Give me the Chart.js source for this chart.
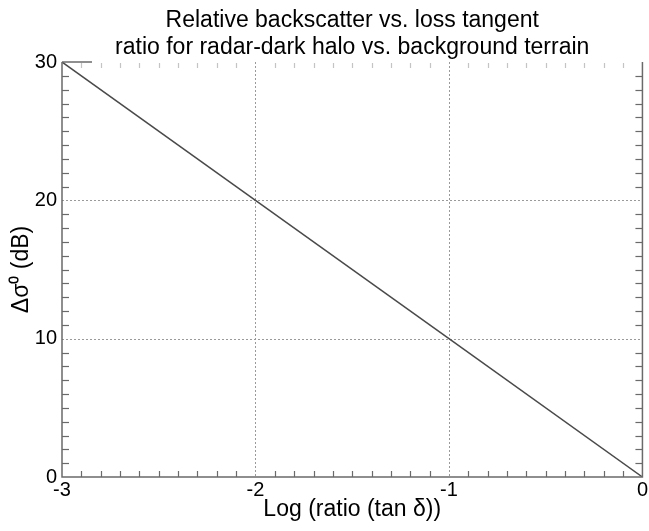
<!DOCTYPE html>
<html>
<head>
<meta charset="utf-8">
<script src="https://cdn.jsdelivr.net/npm/chart.js@4/dist/chart.umd.min.js"></script>
<style>
  html, body { margin: 0; padding: 0; background: #fff; }
  #wrap { width: 649px; height: 531px; }
</style>
</head>
<body>
<div id="wrap"><canvas id="chart" width="649" height="531"></canvas></div>
<script>
// Data
const logRatio = [-3, -2, -1, 0];
const deltaSigma = [30, 20, 10, 0];
const xMajorTicks = [-3, -2, -1, 0];
const yMajorTicks = [0, 10, 20, 30];
const titleLines = ['Relative backscatter vs. loss tangent',
                    'ratio for radar-dark halo vs. background terrain'];

const FONT = 'Liberation Sans, Arial, Helvetica, sans-serif';
const AXIS_COLOR = '#6a6a6a';

// Frame, dotted grid, minor ticks and a title centred over the plot area
const framePlugin = {
    id: 'frame',
    beforeDatasetsDraw(chart) {
        const {ctx, chartArea: a, scales: {x, y}} = chart;
        ctx.save();
        ctx.strokeStyle = '#9a9a9a';
        ctx.lineWidth = 1;
        ctx.setLineDash([2, 2]);
        xMajorTicks.slice(1, -1).forEach(v => {
            const px = Math.round(x.getPixelForValue(v)) + 0.5;
            ctx.beginPath(); ctx.moveTo(px, a.top); ctx.lineTo(px, a.bottom); ctx.stroke();
        });
        yMajorTicks.slice(1, -1).forEach(v => {
            const py = Math.round(y.getPixelForValue(v)) + 0.5;
            ctx.beginPath(); ctx.moveTo(a.left, py); ctx.lineTo(a.right, py); ctx.stroke();
        });
        ctx.restore();
    },
    afterDatasetsDraw(chart) {
        const {ctx, chartArea: a, scales: {x, y}} = chart;
        ctx.save();
        ctx.setLineDash([]);
        ctx.strokeStyle = AXIS_COLOR;
        ctx.lineWidth = 1.5;

        // left, bottom, right edges
        ctx.beginPath();
        ctx.moveTo(a.left, a.top);
        ctx.lineTo(a.left, a.bottom);
        ctx.lineTo(a.right, a.bottom);
        ctx.lineTo(a.right, a.top);
        ctx.stroke();

        // minor ticks along x (every 0.1)
        ctx.lineWidth = 1.2;
        for (let i = 1; i < 30; i++) {
            if (i % 10 === 0) continue;
            const px = Math.round(x.getPixelForValue(-3 + i / 10)) + 0.5;
            ctx.strokeStyle = AXIS_COLOR;
            ctx.beginPath(); ctx.moveTo(px, a.bottom); ctx.lineTo(px, a.bottom - 6); ctx.stroke();
            ctx.strokeStyle = '#c4c4c4';
            ctx.beginPath(); ctx.moveTo(px, a.top + 1); ctx.lineTo(px, a.top + 6); ctx.stroke();
        }

        // minor ticks along y (every 1)
        ctx.strokeStyle = AXIS_COLOR;
        for (let v = 1; v < 30; v++) {
            if (v % 10 === 0) continue;
            const py = Math.round(y.getPixelForValue(v)) + 0.5;
            ctx.beginPath(); ctx.moveTo(a.left, py); ctx.lineTo(a.left + 7, py); ctx.stroke();
            ctx.beginPath(); ctx.moveTo(a.right, py); ctx.lineTo(a.right - 7, py); ctx.stroke();
        }

        // short stub at top-left corner
        ctx.lineWidth = 1.5;
        ctx.beginPath(); ctx.moveTo(a.left, a.top); ctx.lineTo(a.left + 30, a.top); ctx.stroke();

        // title
        ctx.fillStyle = '#000';
        ctx.font = '23px ' + FONT;
        ctx.textAlign = 'center';
        ctx.textBaseline = 'alphabetic';
        const cx = (a.left + a.right) / 2;
        ctx.fillText(titleLines[0], cx, 26.5);
        ctx.fillText(titleLines[1], cx, 54);
        ctx.restore();
    }
};

new Chart(document.getElementById('chart'), {
    type: 'line',
    data: {
        datasets: [{
            data: logRatio.map((v, i) => ({x: v, y: deltaSigma[i]})),
            borderColor: '#4a4a4a',
            borderWidth: 1.5,
            pointRadius: 0,
            fill: false,
            tension: 0
        }]
    },
    options: {
        responsive: false,
        animation: false,
        layout: {padding: {left: 0, right: 6, top: 62, bottom: 0}},
        plugins: {
            legend: {display: false},
            tooltip: {enabled: false},
            title: {display: false}
        },
        scales: {
            x: {
                type: 'linear',
                min: -3,
                max: 0,
                afterBuildTicks: s => { s.ticks = xMajorTicks.map(v => ({value: v})); },
                afterFit: s => { s.height = 54; },
                grid: {display: false, drawTicks: false},
                border: {display: false},
                ticks: {
                    color: '#000',
                    padding: 1,
                    maxRotation: 0,
                    font: {family: FONT, size: 20}
                },
                title: {
                    display: true,
                    text: 'Log (ratio (tan δ))',
                    color: '#000',
                    font: {family: FONT, size: 23},
                    padding: {top: 0, bottom: 8}
                }
            },
            y: {
                min: 0,
                max: 30,
                afterBuildTicks: s => { s.ticks = yMajorTicks.map(v => ({value: v})); },
                afterFit: s => { s.width = 62; },
                grid: {display: false, drawTicks: false},
                border: {display: false},
                ticks: {
                    color: '#000',
                    padding: 5,
                    font: {family: FONT, size: 20}
                },
                title: {
                    display: true,
                    text: 'Δσ⁰ (dB)',
                    color: '#000',
                    font: {family: FONT, size: 23},
                    padding: {top: 8, bottom: 0}
                }
            }
        }
    },
    plugins: [framePlugin]
});
</script>
</body>
</html>
